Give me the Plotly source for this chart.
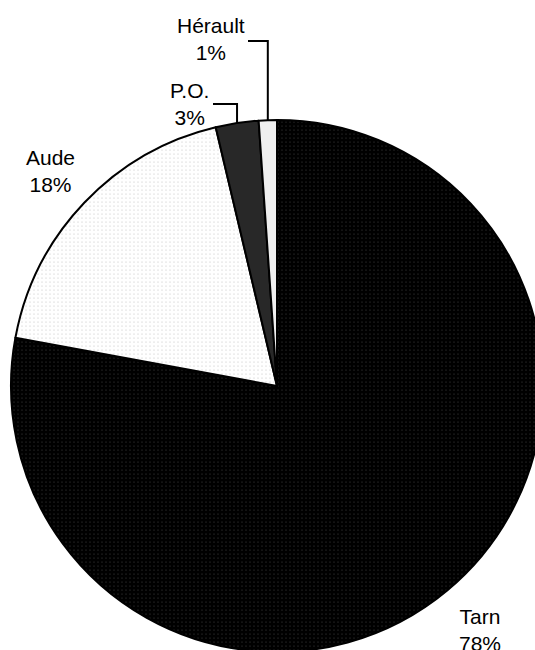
import math
import plotly.graph_objects as go

# Share of each département (percent)
departements = ["Tarn", "Aude", "P.O.", "Hérault"]
parts = [77.9, 18.4, 2.6, 1.1]

# Fill styles: background, dot colour, dot spacing, dot solidity
fill_bg = ["#000000", "#ffffff", "#141414", "#ffffff"]
fill_fg = ["#8a8a8a", "#7a7a7a", "#6a6a6a", "#b4b4b4"]
fill_size = [4, 4, 2, 2]
fill_solidity = [0.07, 0.07, 0.5, 0.5]

W, H = 555, 660
CX, CY, R = 277, 386, 266


def px(x):
    return x / W


def py(y):
    return 1 - y / H


fig = go.Figure(
    go.Pie(
        labels=departements,
        values=parts,
        sort=False,
        direction="clockwise",
        rotation=0,
        textinfo="none",
        hoverinfo="label+percent",
        showlegend=False,
        domain=dict(x=[px(CX - R), px(CX + R)], y=[py(CY + R), py(CY - R)]),
        marker=dict(
            colors=fill_bg,
            line=dict(color="#000000", width=2),
            pattern=dict(
                shape=["."] * len(parts),
                bgcolor=fill_bg,
                fgcolor=fill_fg,
                size=fill_size,
                solidity=fill_solidity,
                fillmode="overlay",
            ),
        ),
    )
)

total = sum(parts)
pct = [f"{round(v / total * 100)}%" for v in parts]

# mid-angle of each slice (clockwise from 12 o'clock) -> point on the rim
cum = 0
rim = []
for v in parts:
    mid = (cum + v / 2) / total * 2 * math.pi
    rim.append((CX + R * math.sin(mid), CY - R * math.cos(mid)))
    cum += v

font = dict(family="Liberation Sans, Arial, sans-serif", size=21, color="#000000")

# label centres in pixels
label_pos = {"Tarn": (480, 630), "Aude": (50, 171), "P.O.": (189, 104), "Hérault": (211, 39)}

annotations = []
for name, p in zip(departements, pct):
    lx, ly = label_pos[name]
    annotations.append(
        dict(
            x=px(lx), y=py(ly), xref="paper", yref="paper",
            text=f"{name}<br>{p}", showarrow=False, font=font,
            xanchor="center", yanchor="middle", align="center",
        )
    )

# elbow leader lines for the two thin slices
shapes = []
for name, start_x, start_y in [("P.O.", 213, 104), ("Hérault", 248, 41)]:
    rx, ry = rim[departements.index(name)]
    shapes.append(
        dict(
            type="path", xref="paper", yref="paper",
            path=f"M {px(start_x)} {py(start_y)} L {px(rx)} {py(start_y)} L {px(rx)} {py(ry)}",
            line=dict(color="#000000", width=2),
        )
    )

fig.update_layout(
    width=W, height=H,
    margin=dict(l=0, r=0, t=0, b=0),
    paper_bgcolor="#ffffff",
    plot_bgcolor="#ffffff",
    annotations=annotations,
    shapes=shapes,
)

fig.write_html(
    "out.html",
    post_script="document.documentElement.style.overflow='hidden';document.body.style.overflow='hidden';document.body.style.margin='0';",
)
